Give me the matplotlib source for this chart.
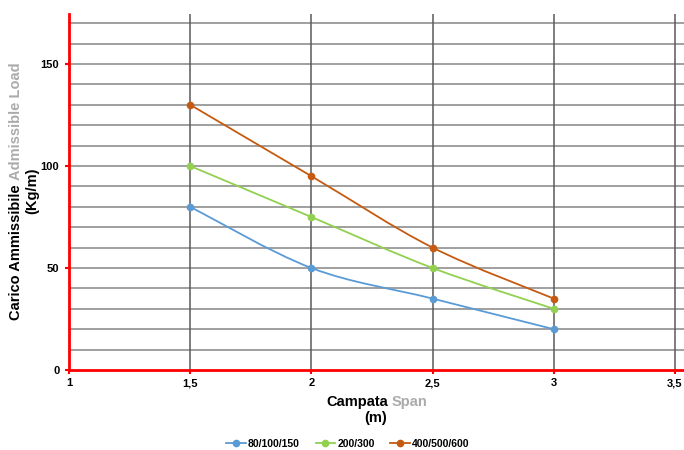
import matplotlib
matplotlib.use('Agg')
import matplotlib.pyplot as plt
from matplotlib.path import Path
from matplotlib.patches import PathPatch
from matplotlib.lines import Line2D
import numpy as np

plt.rcParams['font.family'] = ['Liberation Sans', 'DejaVu Sans']

## data
span = [1.5, 2.0, 2.5, 3.0]
load_80_100_150 = [80, 50, 35, 20]
load_200_300 = [100, 75, 50, 30]
load_400_500_600 = [130, 95, 60, 35]
series_names = ['80/100/150', '200/300', '400/500/600']
series_colors = ['#5B9BD5', '#92D050', '#C55A11']
x_ticks = [1, 1.5, 2, 2.5, 3, 3.5]
x_ticklabels = ['1', '1,5', '2', '2,5', '3', '3,5']
y_ticks = [0, 50, 100, 150]

W, H = 684, 450


def smooth_path(x, y):
    '''
    cubic bezier path through the points (spreadsheet style smoothed line)
    '''
    pts = np.column_stack([x, y]).astype(float)
    n = len(pts)
    verts = [pts[0]]
    codes = [Path.MOVETO]
    for i in range(n - 1):
        p0 = pts[max(i - 1, 0)]
        p1 = pts[i]
        p2 = pts[i + 1]
        p3 = pts[min(i + 2, n - 1)]
        c1 = p1 + (p2 - p0) / 6.
        c2 = p2 - (p3 - p1) / 6.
        verts += [c1, c2, p2]
        codes += [Path.CURVE4] * 3
    return Path(verts, codes)


fig = plt.figure(figsize=(W / 100., H / 100.), dpi=100)
ax = fig.add_axes([69. / W, 1 - 370. / H, (W - 69.) / W, (370. - 14.) / H])

## grid
for yv in np.arange(10, 180, 10):
    ax.axhline(yv, color='#858585', lw=1.1, zorder=1)
for xv in x_ticks[1:]:
    ax.axvline(xv, color='#5a5a5a', lw=1.1, zorder=1)

## lines
handles = []
for vals, name, col in zip([load_80_100_150, load_200_300, load_400_500_600],
                           series_names, series_colors):
    ax.add_patch(PathPatch(smooth_path(span, vals), fc='none', ec=col, lw=1.3, zorder=3))
    ax.plot(span, vals, ls='none', color=col, marker='o', ms=4.5, zorder=3)
    handles.append(Line2D([], [], color=col, lw=1.3, marker='o', ms=4.5, label=name))

ax.set_xlim(1, 1 + (W - 69.) / 242.4)
ax.set_ylim(0, 174.5)
ax.set_xticks(x_ticks)
ax.set_xticklabels(x_ticklabels)
ax.set_yticks(y_ticks)
ax.tick_params(axis='both', colors='red', length=3, width=1.5, labelsize=8)
for lab in ax.get_xticklabels() + ax.get_yticklabels():
    lab.set_color('black')
    lab.set_fontweight('bold')
ax.tick_params(axis='x', pad=3)
ax.tick_params(axis='y', pad=4)

for s in ['top', 'right']:
    ax.spines[s].set_visible(False)
for s in ['left', 'bottom']:
    ax.spines[s].set_color('red')
    ax.spines[s].set_linewidth(2)
    ax.spines[s].set_zorder(4)

## two-colour axis labels
renderer = fig.canvas.get_renderer()
fs = 10.5

def two_colour(x, y, part1, part2, rotation):
    t1 = fig.text(0, 0, part1, fontsize=fs, fontweight='bold', color='black',
                  rotation=rotation, ha='left', va='bottom')
    t2 = fig.text(0, 0, part2, fontsize=fs, fontweight='bold', color='#ababab',
                  rotation=rotation, ha='left', va='bottom')
    e1 = t1.get_window_extent(renderer)
    e2 = t2.get_window_extent(renderer)
    gap = 4
    if rotation == 90:
        total = e1.height + gap + e2.height
        t1.set_position(((x - e1.width / 2.) / W, 1 - (y + total / 2.) / H))
        t2.set_position(((x - e2.width / 2.) / W, 1 - (y + total / 2.) / H + (e1.height + gap) / H))
    else:
        total = e1.width + gap + e2.width
        x0 = x - total / 2.
        t1.set_position((x0 / W, 1 - (y + e1.height / 2.) / H))
        t2.set_position(((x0 + e1.width + gap) / W, 1 - (y + e2.height / 2.) / H))

two_colour(16, 191, 'Carico Ammissibile', 'Admissible Load', 90)
fig.text(32. / W, 1 - 191. / H, '(Kg/m)', fontsize=fs, fontweight='bold',
         rotation=90, ha='center', va='center')
two_colour(377, 402, 'Campata', 'Span', 0)
fig.text(376. / W, 1 - 418. / H, '(m)', fontsize=fs, fontweight='bold',
         ha='center', va='center')

## legend
leg = fig.legend(handles=handles, loc='center', bbox_to_anchor=(348. / W, 1 - 444. / H),
                 ncol=3, frameon=False, prop={'size': 7.5, 'weight': 'bold'},
                 handlelength=1.9, columnspacing=1.5, handletextpad=0.2)

fig.savefig('out.png', dpi=100)
